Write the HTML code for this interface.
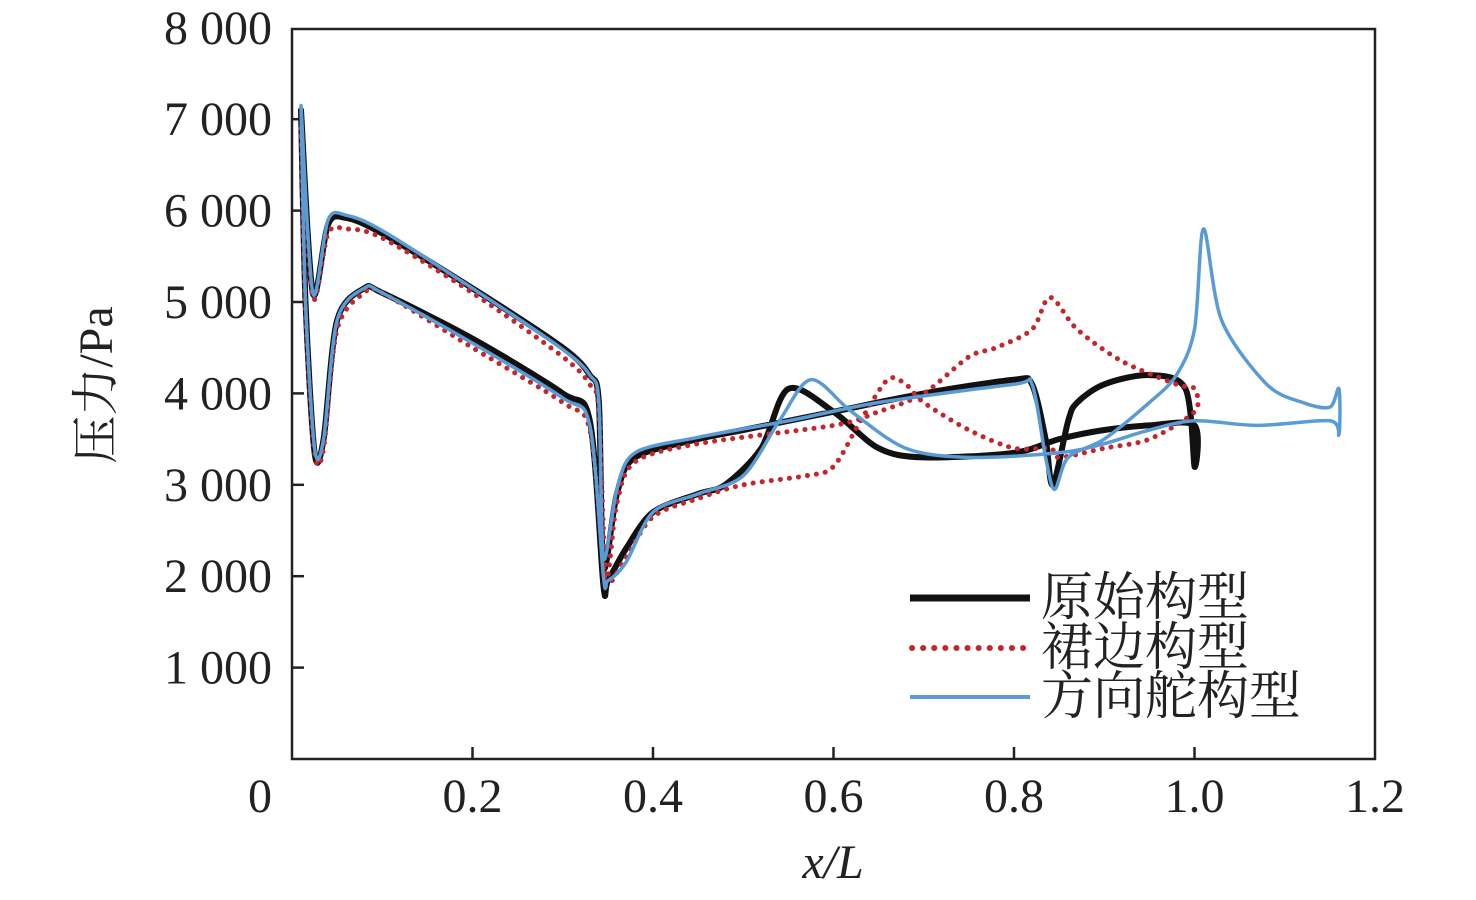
<!DOCTYPE html>
<html><head><meta charset="utf-8"><style>
html,body{margin:0;padding:0;background:#fff;}
svg text{font-family:"Liberation Serif","Noto Serif CJK SC",serif;fill:#222;}
</style></head><body>
<svg id="chart" width="1476" height="895">
<rect x="292" y="29" width="1083" height="730" fill="none" stroke="#222" stroke-width="2.5"/>
<g id="ticks"></g>
<g id="series"></g>
<text x="833" y="878" font-size="48" text-anchor="middle" font-style="italic">x/L</text>
<text transform="translate(112,385) rotate(-90)" font-size="48" text-anchor="middle">压力/Pa</text>
<g>
<line x1="910" y1="598" x2="1030" y2="598" stroke="#111" stroke-width="7"/>
<text x="1041" y="615" font-size="52">原始构型</text>
<line x1="912" y1="648" x2="1028" y2="648" stroke="#c1272d" stroke-width="6" stroke-dasharray="0.1 11" stroke-linecap="round"/>
<text x="1041" y="665" font-size="52">裙边构型</text>
<line x1="910" y1="697" x2="1030" y2="697" stroke="#5b9bd5" stroke-width="4"/>
<text x="1041" y="714" font-size="52">方向舵构型</text>
</g>
</svg>
<script>
const xTicks=[0,0.2,0.4,0.6,0.8,1.0,1.2];
const xTickLabels=["0","0.2","0.4","0.6","0.8","1.0","1.2"];
const yTicks=[1000,2000,3000,4000,5000,6000,7000,8000];
const yTickLabels=["1 000","2 000","3 000","4 000","5 000","6 000","7 000","8 000"];
const blackX=[0.01,0.023,0.04,0.06,0.1,0.2,0.3,0.33,0.34,0.345,0.36,0.38,0.45,0.5,0.6,0.7,0.8,0.82,0.835,0.843,0.86,0.87,0.9,0.95,0.99,1.0,1.0,0.95,0.9,0.85,0.8,0.7,0.65,0.6,0.55,0.52,0.48,0.45,0.4,0.37,0.35,0.345,0.33,0.3,0.2,0.1,0.08,0.05,0.035,0.025,0.015,0.01];
const blackY=[7100,5100,5850,5920,5750,5150,4500,4200,3900,2100,2900,3300,3500,3600,3800,4000,4150,4100,3500,3000,3700,3900,4100,4200,4050,3200,3650,3650,3600,3500,3350,3300,3400,3800,4050,3400,3000,2900,2700,2300,1950,1900,3700,4000,4600,5100,5150,4800,3500,3350,5000,7100];
const redX=[0.01,0.023,0.04,0.06,0.1,0.2,0.3,0.33,0.34,0.348,0.36,0.38,0.45,0.6,0.65,0.7,0.75,0.78,0.82,0.84,0.87,0.92,0.98,1.0,1.0,0.95,0.9,0.85,0.84,0.8,0.75,0.7,0.68,0.66,0.63,0.6,0.57,0.5,0.45,0.4,0.37,0.35,0.345,0.33,0.3,0.2,0.1,0.08,0.05,0.035,0.025,0.015,0.01];
const redY=[6900,5050,5750,5800,5700,5100,4400,4100,3800,2000,2800,3250,3450,3650,3800,4000,4400,4500,4700,5050,4700,4350,4100,4050,3800,3500,3400,3300,3400,3400,3600,3900,4100,4150,3700,3200,3100,3000,2850,2650,2200,1900,2100,3600,3900,4500,5100,5100,4700,3400,3350,4900,6900];
const blueX=[0.01,0.023,0.04,0.06,0.1,0.2,0.3,0.33,0.34,0.345,0.36,0.38,0.45,0.55,0.65,0.8,0.82,0.835,0.845,0.86,0.9,0.95,0.98,1.0,1.01,1.03,1.08,1.12,1.15,1.16,1.16,1.15,1.07,1.0,0.95,0.9,0.85,0.75,0.68,0.62,0.575,0.54,0.5,0.45,0.4,0.37,0.35,0.345,0.33,0.3,0.2,0.1,0.08,0.05,0.035,0.025,0.015,0.01];
const blueY=[7150,5100,5900,5950,5780,5150,4480,4200,3900,2200,2950,3350,3520,3700,3900,4100,4100,3300,2950,3300,3500,3900,4200,4700,5800,4800,4100,3900,3850,4050,3550,3700,3650,3700,3600,3450,3350,3300,3400,3800,4150,3700,3100,2900,2700,2150,1950,2000,3650,3950,4550,5100,5150,4800,3500,3400,5000,7150];
function sx(v){return 292+v*902.5;}
function sy(v){return 759-v*0.0914;}
const NS="http://www.w3.org/2000/svg";
const tg=document.getElementById('ticks');
xTicks.forEach((t,i)=>{
 if(t>0&&t<1.2){const l=document.createElementNS(NS,'line');
 l.setAttribute('x1',sx(t));l.setAttribute('x2',sx(t));l.setAttribute('y1',759);l.setAttribute('y2',747);
 l.setAttribute('stroke','#222');l.setAttribute('stroke-width',2.5);
 
 
 tg.appendChild(l);}
 const tx=document.createElementNS(NS,'text');
 tx.setAttribute('x',t===0?260:sx(t));tx.setAttribute('y',812);tx.setAttribute('font-size',48);tx.setAttribute('text-anchor','middle');
 tx.textContent=xTickLabels[i];
 
 
 tg.appendChild(tx);
});
yTicks.forEach((t,i)=>{
 if(t<8000){const l=document.createElementNS(NS,'line');
 l.setAttribute('x1',292);l.setAttribute('x2',304);l.setAttribute('y1',sy(t));l.setAttribute('y2',sy(t));
 l.setAttribute('stroke','#222');l.setAttribute('stroke-width',2.5);
 
 
 tg.appendChild(l);}
 const tx=document.createElementNS(NS,'text');
 tx.setAttribute('x',272);tx.setAttribute('y',sy(t)+16);tx.setAttribute('font-size',48);tx.setAttribute('text-anchor','end');
 tx.textContent=yTickLabels[i];
 
 
 tg.appendChild(tx);
});
const sg=document.getElementById('series');
function smooth(pts){
 let d='M'+pts[0][0].toFixed(1)+','+pts[0][1].toFixed(1);
 for(let i=0;i<pts.length-1;i++){
  const p0=pts[i-1]||pts[i],p1=pts[i],p2=pts[i+1],p3=pts[i+2]||p2;
  const t=0.15;
  const c1=[p1[0]+(p2[0]-p0[0])*t,p1[1]+(p2[1]-p0[1])*t];
  const c2=[p2[0]-(p3[0]-p1[0])*t,p2[1]-(p3[1]-p1[1])*t];
  d+=' C'+c1[0].toFixed(1)+','+c1[1].toFixed(1)+' '+c2[0].toFixed(1)+','+c2[1].toFixed(1)+' '+p2[0].toFixed(1)+','+p2[1].toFixed(1);
 }
 return d;
}
function draw(xs,ys,color,w,dash,name){
 const p=document.createElementNS(NS,'path');
 p.setAttribute('d',smooth(xs.map((x,i)=>[sx(x),sy(ys[i])])));
 p.setAttribute('fill','none');p.setAttribute('stroke',color);p.setAttribute('stroke-width',w);
 p.setAttribute('stroke-linejoin','round');p.setAttribute('stroke-linecap','round');
 if(dash)p.setAttribute('stroke-dasharray',dash);
 
 
 sg.appendChild(p);
}
draw(blackX,blackY,'#111',6,null,'series-original');
draw(redX,redY,'#c1272d',5,'0.1 9','series-skirt');
draw(blueX,blueY,'#5b9bd5',3.5,null,'series-rudder');
</script>
</body></html>
